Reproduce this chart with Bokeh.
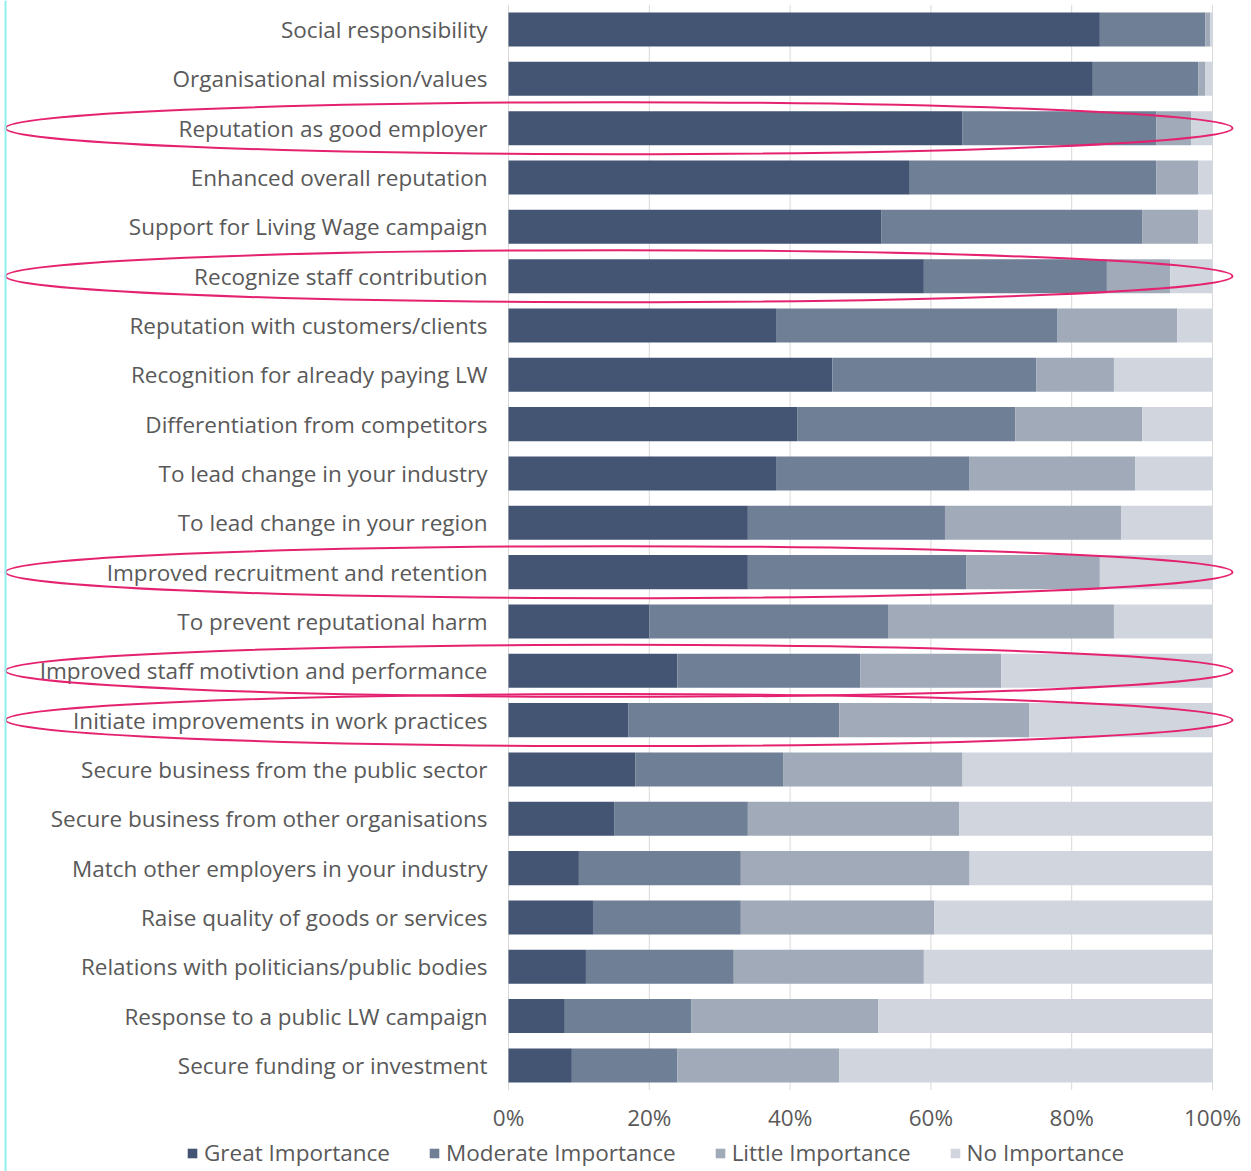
from bokeh.plotting import figure
from bokeh.models import ColumnDataSource, Range1d, Span, Legend, LegendItem
from bokeh.core.properties import value
from bokeh.embed import file_html
from bokeh.resources import INLINE

categories = [
    "Social responsibility",
    "Organisational mission/values",
    "Reputation as good employer",
    "Enhanced overall reputation",
    "Support for Living Wage campaign",
    "Recognize staff contribution",
    "Reputation with customers/clients",
    "Recognition for already paying LW",
    "Differentiation from competitors",
    "To lead change in your industry",
    "To lead change in your region",
    "Improved recruitment and retention",
    "To prevent reputational harm",
    "Improved staff motivtion and performance",
    "Initiate improvements in work practices",
    "Secure business from the public sector",
    "Secure business from other organisations",
    "Match other employers in your industry",
    "Raise quality of goods or services",
    "Relations with politicians/public bodies",
    "Response to a public LW campaign",
    "Secure funding or investment",
]

great = [84, 83, 64.5, 57, 53, 59, 38, 46, 41, 38, 34, 34, 20, 24, 17, 18, 15, 10, 12, 11, 8, 9]
moderate = [15, 15, 27.5, 35, 37, 26, 40, 29, 31, 27.5, 28, 31, 34, 26, 30, 21, 19, 23, 21, 21, 18, 15]
little = [0.7, 1, 5, 6, 8, 9, 17, 11, 18, 23.5, 25, 19, 32, 20, 27, 25.5, 30, 32.5, 27.5, 27, 26.5, 23]
none_ = [0.3, 1, 3, 2, 2, 6, 5, 14, 10, 11, 13, 16, 14, 30, 26, 35.5, 36, 34.5, 39.5, 41, 47.5, 53]

series_names = ["Great Importance", "Moderate Importance", "Little Importance", "No Importance"]
colors = ["#435573", "#6f7f96", "#a0aab9", "#d0d5de"]

x_ticks = [0, 20, 40, 60, 80, 100]
tick_labels = ["0%", "20%", "40%", "60%", "80%", "100%"]

highlighted = [
    "Reputation as good employer",
    "Recognize staff contribution",
    "Improved recruitment and retention",
    "Improved staff motivtion and performance",
    "Initiate improvements in work practices",
]

# layout constants (pixels)
W, H = 1251, 1171
X0_PX, X100_PX = 508, 1212
ROW0_PX, ROW_STEP = 29, 49.33
k = (X100_PX - X0_PX) / 100.0
n = len(categories)

x_start = -X0_PX / k
x_end = x_start + W / k
y_top = -ROW0_PX / ROW_STEP
y_bot = y_top + H / ROW_STEP

FONT = "Open Sans"
FS = "22.5px"
TXT = "#595959"

p = figure(width=W, height=H, output_backend="svg", toolbar_location=None,
           x_range=Range1d(x_start, x_end), y_range=Range1d(y_bot, y_top),
           x_axis_location=None, y_axis_location=None, min_border=0)
p.grid.visible = False
p.outline_line_color = None
p.background_fill_color = "white"
p.border_fill_color = "white"

ys = list(range(n))
src = ColumnDataSource(dict(y=ys, cat=categories, great=great, moderate=moderate,
                            little=little, none_=none_))

# gridlines
p.segment(x0=x_ticks, x1=x_ticks, y0=[-0.5] * len(x_ticks), y1=[n - 0.5] * len(x_ticks),
          line_color="#d9d9d9", line_width=1)

rends = p.hbar_stack(["great", "moderate", "little", "none_"], y="y", height=0.69,
                     color=colors, line_color=None, source=src)

# category labels
p.text(x=0, y="y", text="cat", source=src, x_offset=-21, text_align="right",
       text_baseline="middle", text_font=value(FONT), text_font_size=FS,
       text_color=TXT)

# x tick labels
p.text(x=x_ticks, y=[n - 0.5] * len(x_ticks), text=tick_labels, y_offset=27,
       text_align="center", text_baseline="middle", text_font=value(FONT),
       text_font_size=FS, text_color=TXT)

# highlight ellipses
hy = [categories.index(c) for c in highlighted]
ell_center = (618.5 - X0_PX) / k
ell_width = 1227 / k
p.ellipse(x=[ell_center] * len(hy), y=hy, width=ell_width, height=52 / ROW_STEP,
          fill_color=None, line_color="#e5226f", line_width=2)

# cyan left border line
p.add_layout(Span(location=x_start + 5 / k, dimension="height",
                  line_color="#8ff0f0", line_width=2))

legend = Legend(items=[LegendItem(label=s, renderers=[r]) for s, r in zip(series_names, rends)],
                orientation="horizontal", location=(186, 3),
                glyph_width=12, glyph_height=12, label_standoff=6, spacing=38,
                padding=0, margin=0, border_line_color=None, background_fill_alpha=0,
                label_text_font=FONT, label_text_font_size=FS, label_text_color=TXT)
p.add_layout(legend, "center")

open("out.html", "w").write(file_html(p, INLINE))
